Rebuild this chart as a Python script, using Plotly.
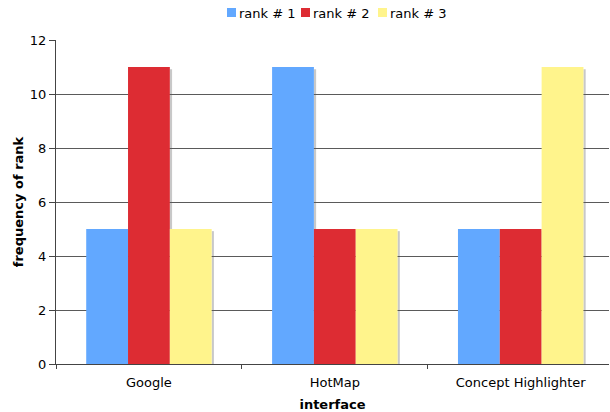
import plotly.graph_objects as go

# Frequency of each rank per search interface
interfaces = ["Google", "HotMap", "Concept Highlighter"]
rank1 = [5, 11, 5]
rank2 = [11, 5, 5]
rank3 = [5, 5, 11]
series_names = ["rank # 1", "rank # 2", "rank # 3"]
colors = ["#62A8FF", "#DD2C33", "#FFF48C"]

series = [rank1, rank2, rank3]
bargap = 0.325
bar_w = (1 - bargap) / len(series)

W, H = 610, 412
M = dict(l=56, r=1, t=40, b=48)
PW = W - M["l"] - M["r"]
PH = H - M["t"] - M["b"]

# the category axis runs slightly past the right edge of the figure
x_range = [-0.5, 2.475]


def px_x(px):
    return (px - M["l"]) / PW


def px_y(py):
    return (H - M["b"] - py) / PH


fig = go.Figure()
for name, vals, col in zip(series_names, series, colors):
    fig.add_trace(go.Bar(
        x=interfaces, y=vals, name=name,
        marker=dict(color=col, line=dict(width=0)),
        showlegend=False,
    ))

# thin drop shadow to the right of each bar
shadow_w = 0.012
for j, vals in enumerate(series):
    for i, v in enumerate(vals):
        right = i + (j - (len(series) - 1) / 2) * bar_w + bar_w / 2
        fig.add_shape(type="rect", xref="x", yref="y",
                      x0=right, x1=right + shadow_w, y0=0, y1=v - 0.08,
                      fillcolor="#C8C8C8", line=dict(width=0), layer="below")

font = "DejaVu Sans, Verdana, sans-serif"

# compact legend row across the top: small square swatch followed by its label
legend_x = [227, 301, 378]
for name, col, lx in zip(series_names, colors, legend_x):
    fig.add_shape(type="rect", xref="paper", yref="paper",
                  x0=px_x(lx), x1=px_x(lx + 9), y0=px_y(17), y1=px_y(8),
                  fillcolor=col, line=dict(width=0))
    fig.add_annotation(xref="paper", yref="paper", x=px_x(lx + 10), y=px_y(13),
                       xanchor="left", yanchor="middle", showarrow=False,
                       text=name, font=dict(family=font, size=13, color="black"))

fig.update_layout(
    width=W, height=H,
    margin=M,
    barmode="group", bargap=bargap, bargroupgap=0,
    plot_bgcolor="white", paper_bgcolor="white",
    font=dict(family=font, size=13, color="black"),
    showlegend=False,
    xaxis=dict(
        title=dict(text="<b>interface</b>", font=dict(size=13), standoff=11),
        range=x_range,
        tickson="boundaries", ticks="outside", ticklen=4, tickcolor="#444",
        ticklabelstandoff=6,
        showline=True, linecolor="#444", linewidth=1,
        showgrid=False, tickfont=dict(size=13),
    ),
    yaxis=dict(
        title=dict(text="<b>frequency of rank</b>", font=dict(size=13), standoff=3),
        range=[0, 12], dtick=2, ticks="outside", ticklen=6, tickcolor="#444",
        showline=True, linecolor="#444", linewidth=1,
        showgrid=True, gridcolor="#5A5A5A", gridwidth=1,
        zeroline=False, tickfont=dict(size=13),
    ),
)

fig.write_html("out.html")
